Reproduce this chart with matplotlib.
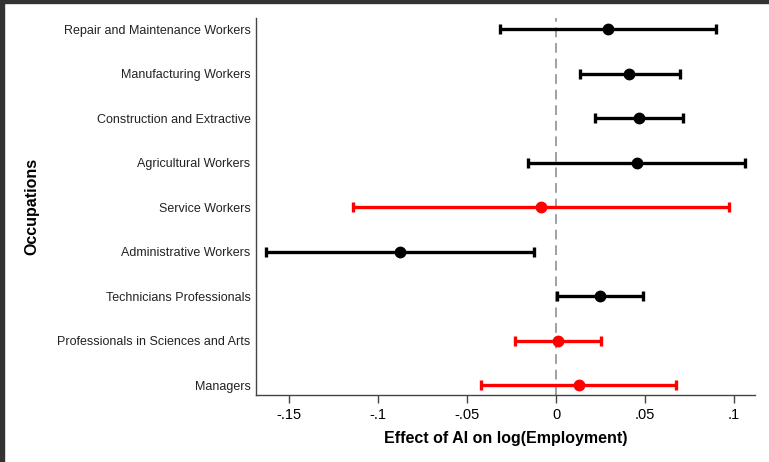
import matplotlib

matplotlib.use("Agg")

import matplotlib.pyplot as plt
from matplotlib.patches import Rectangle

plt.rcParams["font.family"] = ["Liberation Sans", "DejaVu Sans"]

# bottom to top
occupations = [
    "Managers",
    "Professionals in Sciences and Arts",
    "Technicians Professionals",
    "Administrative Workers",
    "Service Workers",
    "Agricultural Workers",
    "Construction and Extractive",
    "Manufacturing Workers",
    "Repair and Maintenance Workers",
]
estimates = [0.0131, 0.0010, 0.0247, -0.0875, -0.0082, 0.0455, 0.0466, 0.0412, 0.0290]
ci_low = [-0.0421, -0.0230, 0.0004, -0.1630, -0.1139, -0.0157, 0.0220, 0.0133, -0.0316]
ci_high = [0.0676, 0.0253, 0.0490, -0.0122, 0.0972, 0.1060, 0.0712, 0.0695, 0.0897]
highlight = [True, True, False, False, True, False, False, False, False]

xticks = [-0.15, -0.1, -0.05, 0, 0.05, 0.1]
xtick_labels = ["-.15", "-.1", "-.05", "0", ".05", ".1"]

fig = plt.figure(figsize=(7.69, 4.62), dpi=100)
ax = fig.add_axes([0.333, 0.145, 0.649, 0.816])

ax.axvline(0, color="#a0a0a0", linewidth=1.4, linestyle=(0, (5, 3)), zorder=1)

for i, (est, lo, hi, red) in enumerate(zip(estimates, ci_low, ci_high, highlight)):
    color = "#ff0000" if red else "#000000"
    y = i + 1
    ax.errorbar(
        est, y, xerr=[[est - lo], [hi - est]],
        fmt="o", color=color, ecolor=color, markersize=7.5,
        elinewidth=2.4, capsize=3.5, capthick=2.4, zorder=3,
    )

ax.set_xlim(-0.1685, 0.1118)
ax.set_ylim(0.775, 9.25)
ax.set_yticks(range(1, len(occupations) + 1))
ax.set_yticklabels(occupations, fontsize=9, color="#222222")
ax.set_xticks(xticks)
ax.set_xticklabels(xtick_labels, fontsize=10.5)
ax.tick_params(axis="y", length=0, pad=4)
ax.tick_params(axis="x", length=6, width=1, color="#444444", pad=3)

ax.spines["top"].set_visible(False)
ax.spines["right"].set_visible(False)
for side in ("left", "bottom"):
    ax.spines[side].set_color("#444444")
    ax.spines[side].set_linewidth(1.0)

ax.set_xlabel("Effect of AI on log(Employment)", fontsize=11.5, fontweight="bold", labelpad=7)
fig.text(0.042, 0.553, "Occupations", rotation=90, fontsize=11.5, fontweight="bold",
         ha="center", va="center")

# dark frame of the screenshot on left and top
fig.patches.append(Rectangle((0, 0), 4 / 769, 1, transform=fig.transFigure,
                             color="#333333", zorder=10))
fig.patches.append(Rectangle((0, 1 - 3 / 462), 1, 3 / 462, transform=fig.transFigure,
                             color="#333333", zorder=10))

fig.savefig("out.png", dpi=100)
